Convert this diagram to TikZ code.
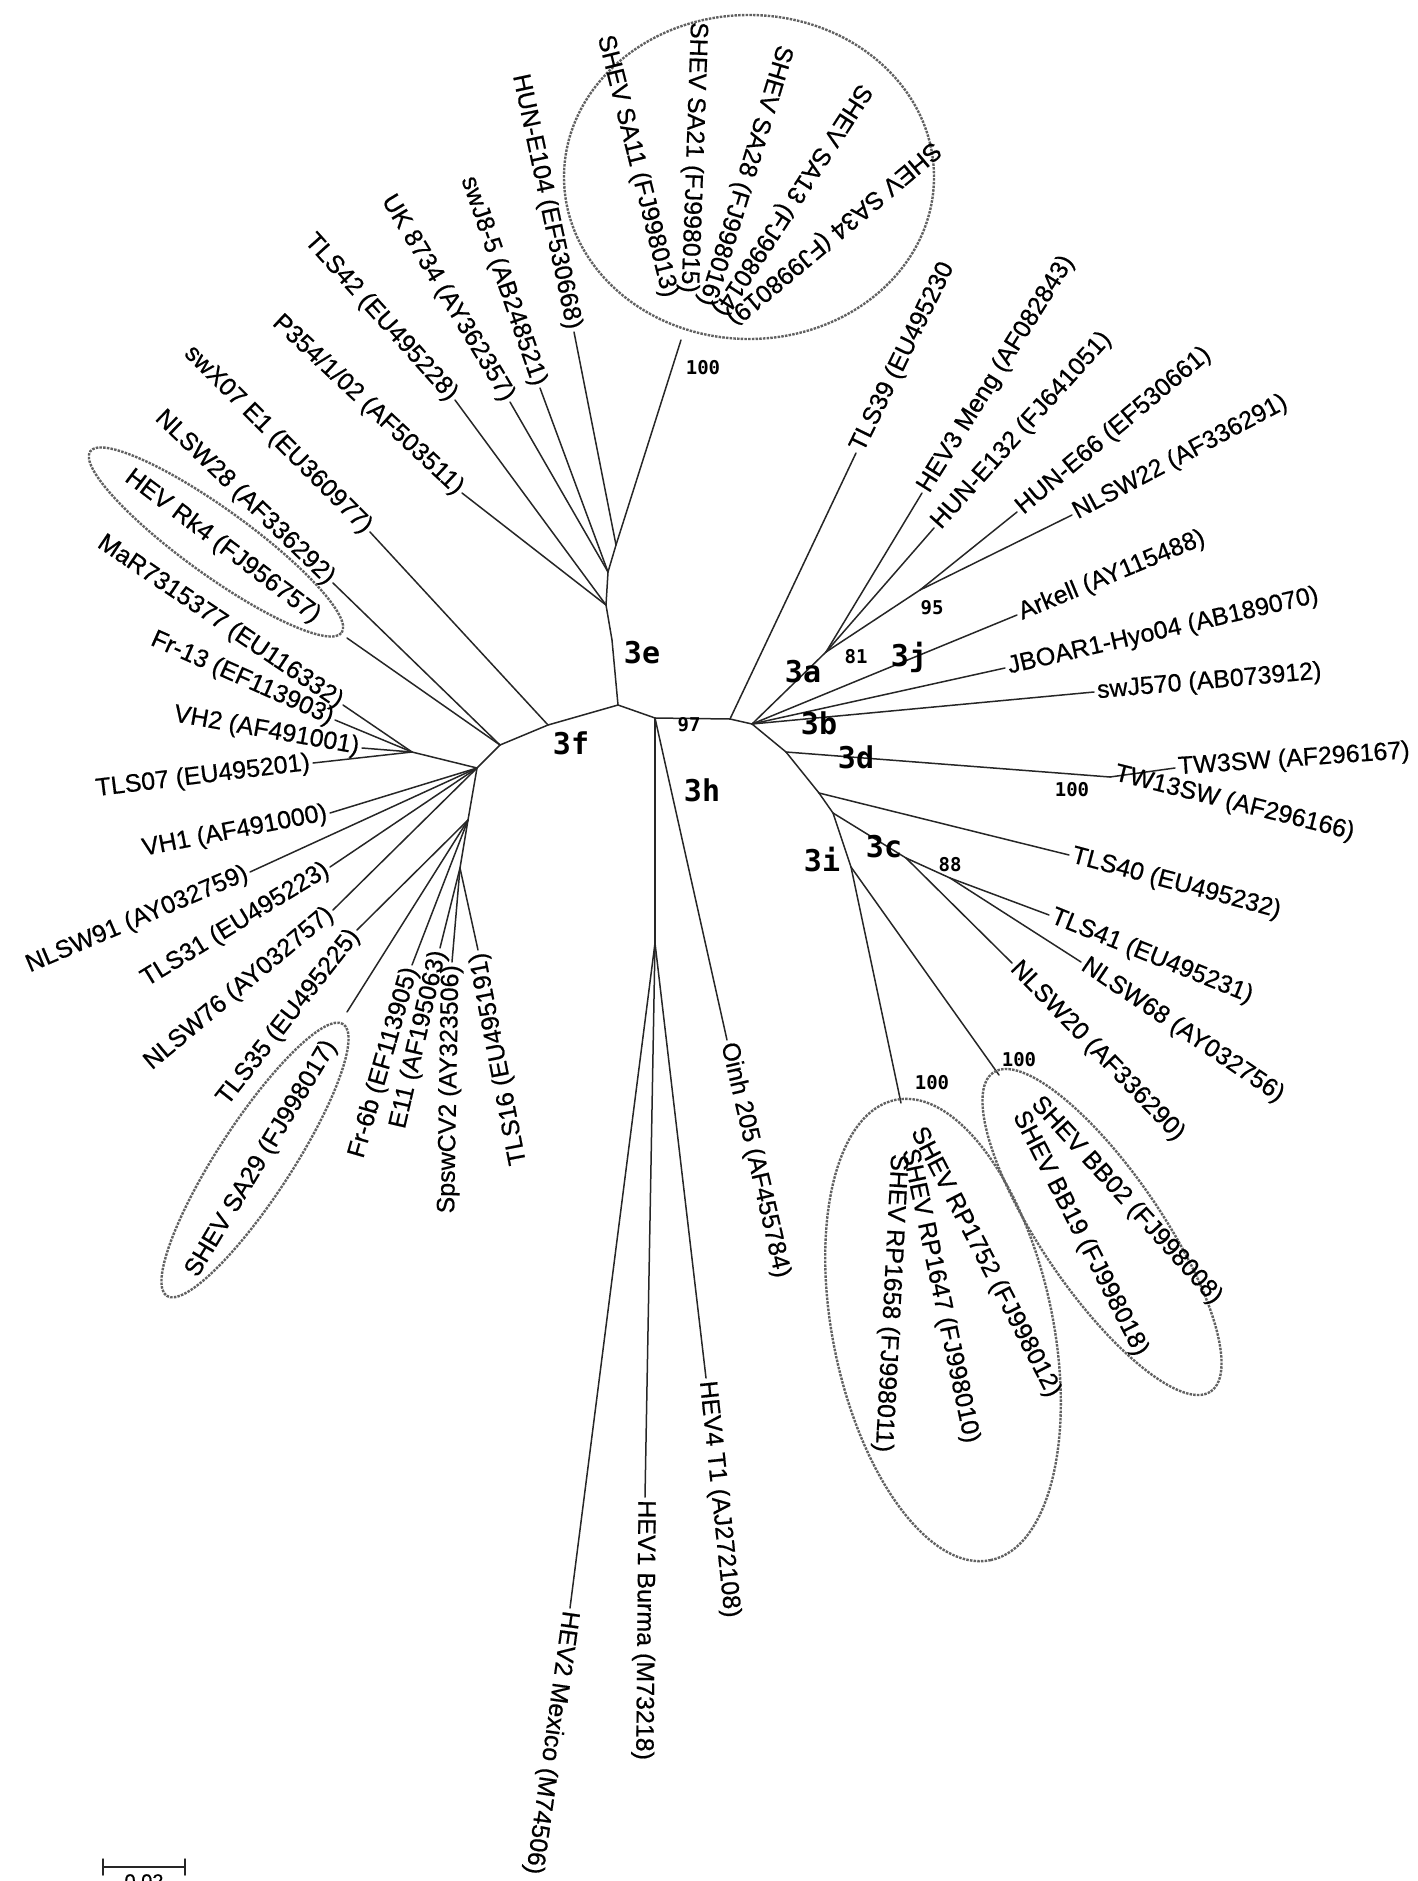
\documentclass[tikz,border=0pt]{standalone}
\usepackage{fontspec}
\setmainfont{Liberation Sans}[FakeBold=0.6]
\newfontfamily\monof{DejaVu Sans Mono}
\tikzset{
 br/.style={line width=1.5pt, draw=black!85, line cap=round},
 lab/.style={font=\fontsize{25}{29}\selectfont, inner sep=3pt},
 outl/.style={lab, anchor=west},
 inl/.style={lab, anchor=east},
 subt/.style={font=\monof\bfseries\fontsize{30}{34}\selectfont, inner sep=0pt},
 boot/.style={font=\monof\bfseries\fontsize{19}{22}\selectfont, inner sep=0pt},
 grp/.style={draw=black!62, line width=2.4pt, dash pattern=on 2.5pt off 1.2pt},
}
\begin{document}
\begin{tikzpicture}[x=1pt,y=-1pt]
\useasboundingbox (0,0) rectangle (1418,1881);
% internal nodes
\coordinate (R) at (618,705);
\coordinate (E1) at (612,640);
\coordinate (E2) at (606,605);
\coordinate (E3) at (608,572);
\coordinate (E4) at (616,545);
\coordinate (Ssa) at (681,340);
\coordinate (F0) at (548,725);
\coordinate (F1) at (500,745);
\coordinate (F2) at (477,768);
\coordinate (F4) at (412,752);
\coordinate (F5) at (468,820);
\coordinate (F3) at (460,868);
\coordinate (H1) at (655,718);
\coordinate (P39) at (730,719);
\coordinate (B) at (752,724);
\coordinate (A) at (826,652);
\coordinate (N95) at (920,590);
\coordinate (D) at (786,752);
\coordinate (T) at (1110,777);
\coordinate (C0) at (819,793);
\coordinate (I0) at (833,813);
\coordinate (C3) at (906,858);
\coordinate (C88) at (950,878);
\coordinate (I1) at (851,867);
\coordinate (Trp) at (901,1103);
\coordinate (Tbb) at (999,1075);
\coordinate (H3) at (655,943);
% leaves
\coordinate (l39) at (856,453);
\coordinate (lmeng) at (922,493);
\coordinate (le132) at (934,528);
\coordinate (le66) at (1017,512);
\coordinate (ln22) at (1072,515);
\coordinate (lark) at (1017,615);
\coordinate (ljb) at (1005,668);
\coordinate (lsw570) at (1094,692);
\coordinate (ltw3) at (1175,768);
\coordinate (ltw13) at (1112,773);
\coordinate (l40) at (1069,855);
\coordinate (l41) at (1049,915);
\coordinate (ln68) at (1081,962);
\coordinate (ln20) at (1012,963);
\coordinate (loinh) at (727,1040);
\coordinate (lh4) at (706,1378);
\coordinate (lh1) at (645,1497);
\coordinate (lh2) at (570,1608);
\coordinate (le104) at (574,332);
\coordinate (lj85) at (540,388);
\coordinate (luk) at (510,402);
\coordinate (l42) at (455,400);
\coordinate (lp354) at (462,493);
\coordinate (lx07) at (370,532);
\coordinate (ln28) at (333,583);
\coordinate (lrk) at (347,638);
\coordinate (lrkt) at (320,620);
\coordinate (lmar) at (343,705);
\coordinate (lfr13) at (335,720);
\coordinate (lvh2) at (362,748);
\coordinate (l07) at (313,763);
\coordinate (lvh1) at (330,813);
\coordinate (ln91) at (250,872);
\coordinate (l31) at (330,867);
\coordinate (ln76) at (333,910);
\coordinate (l35) at (357,930);
\coordinate (lsa29) at (347,1012);
\coordinate (lsa29t) at (333,1040);
\coordinate (lfr6) at (412,965);
\coordinate (le11) at (440,948);
\coordinate (lsp) at (452,962);
\coordinate (l16) at (478,950);
\coordinate (sa11) at (670,300);
\coordinate (sa21) at (688,296);
\coordinate (sa28) at (704,308);
\coordinate (sa13) at (716,316);
\coordinate (sa34) at (727,322);
\coordinate (rp52) at (915,1126);
\coordinate (rp47) at (908,1146);
\coordinate (rp58) at (898,1151);
\coordinate (bb02) at (1033,1098);
\coordinate (bb19) at (1017,1110);
% branches
\foreach \a/\b in {R/E1,E1/E2,E2/E3,E3/E4,E4/Ssa,E4/le104,E3/lj85,E3/luk,E2/l42,E2/lp354,
 R/F0,F0/F1,F0/lx07,F1/ln28,F1/lrk,F1/F2,F2/F4,F4/lmar,F4/lfr13,F4/lvh2,F4/l07,F2/lvh1,F2/ln91,F2/l31,
 F2/F5,F2/ln76,F5/l35,F5/lsa29,F5/lfr6,F5/F3,F3/le11,F3/lsp,F3/l16,
 R/H1,H1/P39,P39/l39,P39/B,B/A,A/lmeng,A/le132,A/N95,N95/le66,N95/ln22,B/lark,B/ljb,B/lsw570,
 B/D,D/T,T/ltw3,D/C0,C0/l40,C0/I0,I0/C3,C3/ln20,C3/C88,C88/l41,C88/ln68,I0/I1,I1/Trp,I1/Tbb,
 H1/loinh,H1/H3,H3/lh4,H3/lh1,H3/lh2}
 \draw[br] (\a) -- (\b);
% group outlines
\draw[grp] (749,177) ellipse [x radius=185pt, y radius=162pt];
\draw[grp, shift={(216,542)}, rotate=-35.8] (0,0) ellipse [x radius=155pt, y radius=33pt];
\draw[grp, shift={(255,1160)}, rotate=57] (0,0) ellipse [x radius=162pt, y radius=37pt];
\draw[grp, shift={(943,1330)}, rotate=-78.3] (0,0) ellipse [x radius=235pt, y radius=110pt];
\draw[grp, shift={(1102,1232)}, rotate=-55.7] (0,0) ellipse [x radius=193pt, y radius=60pt];
% right labels
\node[outl, rotate=64] (n39) at (l39) {TLS39 (EU495230};
\node[outl, rotate=58] (nmeng) at (lmeng) {HEV3 Meng (AF082843)};
\node[outl, rotate=48] (ne132) at (le132) {HUN-E132 (FJ641051)};
\node[outl, rotate=40] (ne66) at (le66) {HUN-E66 (EF530661)};
\node[outl, rotate=28] (nn22) at (ln22) {NLSW22 (AF336291)};
\node[outl, rotate=22.5] (nark) at (lark) {Arkell (AY115488)};
\node[outl, rotate=13] (njb) at (ljb) {JBOAR1-Hyo04 (AB189070)};
\node[outl, rotate=5] (nsw570) at (lsw570) {swJ570 (AB073912)};
\node[outl, rotate=4] (ntw3) at (ltw3) {TW3SW (AF296167)};
\node[outl, rotate=-14] (ntw13) at (ltw13) {TW13SW (AF296166)};
\node[outl, rotate=-15] (n40) at (l40) {TLS40 (EU495232)};
\node[outl, rotate=-22] (n41) at (l41) {TLS41 (EU495231)};
\node[outl, rotate=-34] (nn68) at (ln68) {NLSW68 (AY032756)};
\node[outl, rotate=-46] (nn20) at (ln20) {NLSW20 (AF336290)};
\node[outl, rotate=-47.7] (nbb02) at (bb02) {SHEV BB02 (FJ998008)};
\node[outl, rotate=-63] (nbb19) at (bb19) {SHEV BB19 (FJ998018)};
\node[outl, rotate=-62.7] (nrp52) at (rp52) {SHEV RP1752 (FJ998012)};
\node[outl, rotate=-78] (nrp47) at (rp47) {SHEV RP1647 (FJ998010)};
\node[outl, rotate=-93] (nrp58) at (rp58) {SHEV RP1658 (FJ998011)};
\node[outl, rotate=-77] (noinh) at (loinh) {Oinh 205 (AF455784)};
\node[outl, rotate=-84] (nh4) at (lh4) {HEV4 T1 (AJ272108)};
\node[outl, rotate=-90.5] (nh1) at (lh1) {HEV1 Burma (M73218)};
\node[outl, rotate=-98] (nh2) at (lh2) {HEV2 Mexico (M74506)};
% top and left labels
\node[inl, rotate=-76] (nsa11) at (sa11) {SHEV SA11 (FJ998013)};
\node[inl, rotate=-92] (nsa21) at (sa21) {SHEV SA21 (FJ998015)};
\node[inl, rotate=-107] (nsa28) at (sa28) {SHEV SA28 (FJ998016)};
\node[inl, rotate=-123] (nsa13) at (sa13) {SHEV SA13 (FJ998014)};
\node[inl, rotate=-140] (nsa34) at (sa34) {SHEV SA34 (FJ998019)};
\node[inl, rotate=-78] (ne104) at (le104) {HUN-E104 (EF530668)};
\node[inl, rotate=-71] (nj85) at (lj85) {swJ8-5 (AB248521)};
\node[inl, rotate=-59] (nuk) at (luk) {UK 8734 (AY362357)};
\node[inl, rotate=-48] (n42) at (l42) {TLS42 (EU495228)};
\node[inl, rotate=-43] (np354) at (lp354) {P354/1/02 (AF503511)};
\node[inl, rotate=-45] (nx07) at (lx07) {swX07 E1 (EU360977)};
\node[inl, rotate=-44] (nn28) at (ln28) {NLSW28 (AF336292)};
\node[inl, rotate=-37] (nrk) at (lrkt) {HEV Rk4 (FJ956757)};
\node[inl, rotate=-34] (nmar) at (lmar) {MaR7315377 (EU116332)};
\node[inl, rotate=-24] (nfr13) at (lfr13) {Fr-13 (EF113903)};
\node[inl, rotate=-10] (nvh2) at (lvh2) {VH2 (AF491001)};
\node[inl, rotate=7] (n07) at (l07) {TLS07 (EU495201)};
\node[inl, rotate=11] (nvh1) at (lvh1) {VH1 (AF491000)};
\node[inl, rotate=23] (nn91) at (ln91) {NLSW91 (AY032759)};
\node[inl, rotate=31.5] (n31) at (l31) {TLS31 (EU495223)};
\node[inl, rotate=40] (nn76) at (ln76) {NLSW76 (AY032757)};
\node[inl, rotate=52] (n35) at (l35) {TLS35 (EU495225)};
\node[inl, rotate=59] (nsa29) at (lsa29t) {SHEV SA29 (FJ998017)};
\node[inl, rotate=74] (nfr6) at (lfr6) {Fr-6b (EF113905)};
\node[inl, rotate=77] (ne11) at (le11) {E11 (AF195063)};
\node[inl, rotate=89] (nsp) at (lsp) {SpswCV2 (AY323506)};
\node[inl, rotate=101] (n16) at (l16) {TLS16 (EU495191)};
% subtype labels
\node[subt] (s3e) at (642,653) {3e};
\node[subt] (s3f) at (571,743) {3f};
\node[subt] (s3h) at (702,790) {3h};
\node[subt] (s3a) at (803,672) {3a};
\node[subt] (s3j) at (909,657) {3j};
\node[subt] (s3b) at (819,723) {3b};
\node[subt] (s3d) at (856,757) {3d};
\node[subt] (s3c) at (884,847) {3c};
\node[subt] (s3i) at (822,860) {3i};
% bootstrap values
\node[boot] (b1) at (703,368) {100};
\node[boot] (b2) at (689,725) {97};
\node[boot] (b3) at (932,608) {95};
\node[boot] (b4) at (856,657) {81};
\node[boot] (b5) at (1072,790) {100};
\node[boot] (b6) at (950,865) {88};
\node[boot] (b7) at (932,1083) {100};
\node[boot] (b8) at (1019,1060) {100};
% scale bar
\coordinate (sb1) at (103,1867);
\coordinate (sb2) at (185,1867);
\draw[br] (sb1) -- (sb2);
\draw[br] (103,1859) -- (103,1875);
\draw[br] (185,1859) -- (185,1875);
\node[lab, anchor=north, inner sep=0pt, font=\fontsize{20}{24}\selectfont] (sbl) at (144,1874) {0.02};
\end{tikzpicture}
\end{document}
